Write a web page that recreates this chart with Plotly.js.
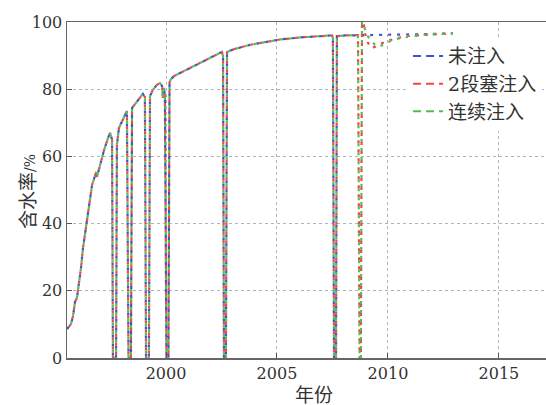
<!DOCTYPE html>
<html>
<head>
<meta charset="utf-8">
<script src="https://cdn.plot.ly/plotly-3.0.1.min.js"></script>
<style>html,body{margin:0;padding:0;background:#fff;overflow:hidden}#chart{width:546px;height:405px}</style>
</head>
<body>
<div id="chart"></div>
<script>
// Shared history (all three scenarios identical up to mid-2008)
const baseYears = [1995.54,1995.63,1995.72,1995.81,1995.90,1995.99,1996.08,1996.17,1996.26,1996.40,1996.53,1996.67,1996.80,1996.85,1996.89,1997.03,1997.21,1997.39,1997.48,1997.57,
  1997.61,1997.75,1997.79,1997.88,1998.02,1998.20,1998.24,1998.31,1998.42,1998.47,1998.65,1998.83,1998.96,1999.05,1999.10,1999.23,1999.28,1999.41,1999.59,1999.73,1999.82,1999.86,1999.91,1999.95,
  2000.02,2000.11,2000.16,2000.23,2000.36,2000.63,2001.08,2001.53,2001.98,2002.43,2002.52,2002.57,2002.61,2002.70,2002.75,2003.11,2003.78,2004.46,2005.14,2006.04,2006.94,2007.48,2007.52,
  2007.57,2007.66,2007.70,2008.06,2008.65];
const baseRates = [8.6,9.2,10.1,12.5,16.7,17.9,22.0,26.8,32.7,39.6,45.5,51.5,54.2,55.4,53.9,57.4,61.9,65.5,67.0,65.0,
  0,0,63.4,68.5,70.5,72.6,73.5,0,0,74.4,75.9,77.4,78.6,77.7,0,0,78.0,79.8,81.3,81.8,81.0,77.4,80.4,78.0,
  0,0,82.1,83.0,83.9,84.8,86.3,87.8,89.3,90.8,91.1,89.9,0,0,91.1,92.0,93.2,94.0,94.8,95.4,95.8,96.0,95.2,
  0,0,95.8,96.0,96.1];

// 未注入 continuation
const noInjYears = [2009.64,2011.00,2012.93];
const noInjRates = [96.1,96.3,96.6];

// 2段塞注入 continuation
const slugYears = [2008.72,2008.78,2008.83,2008.92,2008.96,2009.10,2009.23,2009.41,2009.64,2010.09,2010.54,2011.44,2012.93];
const slugRates = [0,0,100,99.0,96.7,93.8,92.3,92.6,93.5,94.6,95.4,96.1,96.6];

// 连续注入 continuation
const contYears = [2008.72,2008.78,2008.83,2008.92,2009.05,2009.23,2009.41,2009.59,2009.77,2010.09,2010.54,2011.44,2012.93];
const contRates = [0,0,100,98.8,96.1,94.6,93.2,92.6,93.2,94.3,95.2,96.1,96.6];

const seriesNames = ['未注入','2段塞注入','连续注入'];
const seriesColors = ['#4055c8','#f04848','#52bf52'];
const interleave = ['3px,6px','0px,3px,3px,3px','0px,6px,3px,0px'];

const xs = [baseYears.concat(noInjYears), baseYears.concat(slugYears), baseYears.concat(contYears)];
const ys = [baseRates.concat(noInjRates), baseRates.concat(slugRates), baseRates.concat(contRates)];

const traces = [];
for (let i = 0; i < 3; i++) {
  traces.push({x: xs[i], y: ys[i], type: 'scatter', mode: 'lines', showlegend: false, hoverinfo: 'skip',
    line: {color: seriesColors[i], width: 2.2, dash: interleave[i]}});
}
for (let i = 0; i < 3; i++) {
  traces.push({x: [null], y: [null], type: 'scatter', mode: 'lines', name: seriesNames[i],
    line: {color: seriesColors[i], width: 2, dash: '8px,5px'}});
}

const fontFam = 'DejaVu Serif, Noto Sans CJK SC, serif';
const layout = {
  width: 546, height: 405,
  margin: {l: 67, r: 0, t: 22, b: 47},
  paper_bgcolor: '#fff', plot_bgcolor: '#fff',
  font: {family: fontFam, size: 18, color: '#333'},
  xaxis: {range: [1995.54, 2017.12], tickvals: [2000, 2005, 2010, 2015], ticks: 'inside', ticklen: 5, tickcolor: '#555',
    showline: true, linecolor: '#666', linewidth: 1.5, mirror: true, zeroline: false,
    showgrid: true, gridcolor: '#aab6c6', griddash: 'dot', gridwidth: 1,
    tickfont: {family: fontFam, size: 16, color: '#333'}},
  yaxis: {range: [0, 100], tickvals: [0, 20, 40, 60, 80, 100], ticks: 'inside', ticklen: 5, tickcolor: '#555',
    showline: true, linecolor: '#666', linewidth: 1.5, zeroline: false,
    showgrid: true, gridcolor: '#aab6c6', griddash: 'dot', gridwidth: 1,
    tickfont: {family: fontFam, size: 16, color: '#333'}},
  legend: {x: 0.712, y: 0.955, xanchor: 'left', yanchor: 'top', bgcolor: '#fff', borderwidth: 0,
    font: {family: fontFam, size: 19, color: '#333'}, tracegroupgap: 0},
  annotations: [
    {text: '年份', xref: 'paper', yref: 'paper', x: (314 - 67) / 479, y: -0.11, xanchor: 'center', yanchor: 'middle',
      showarrow: false, font: {family: fontFam, size: 19, color: '#333'}},
    {text: '含水率<span style="font-size:14px">/%</span>', xref: 'paper', yref: 'paper', x: (28 - 67) / 479, y: 0.494,
      xanchor: 'center', yanchor: 'middle', textangle: -90, showarrow: false, font: {family: fontFam, size: 19, color: '#333'}}
  ]
};

Plotly.newPlot('chart', traces, layout, {displayModeBar: false, staticPlot: true});
</script>
</body>
</html>
